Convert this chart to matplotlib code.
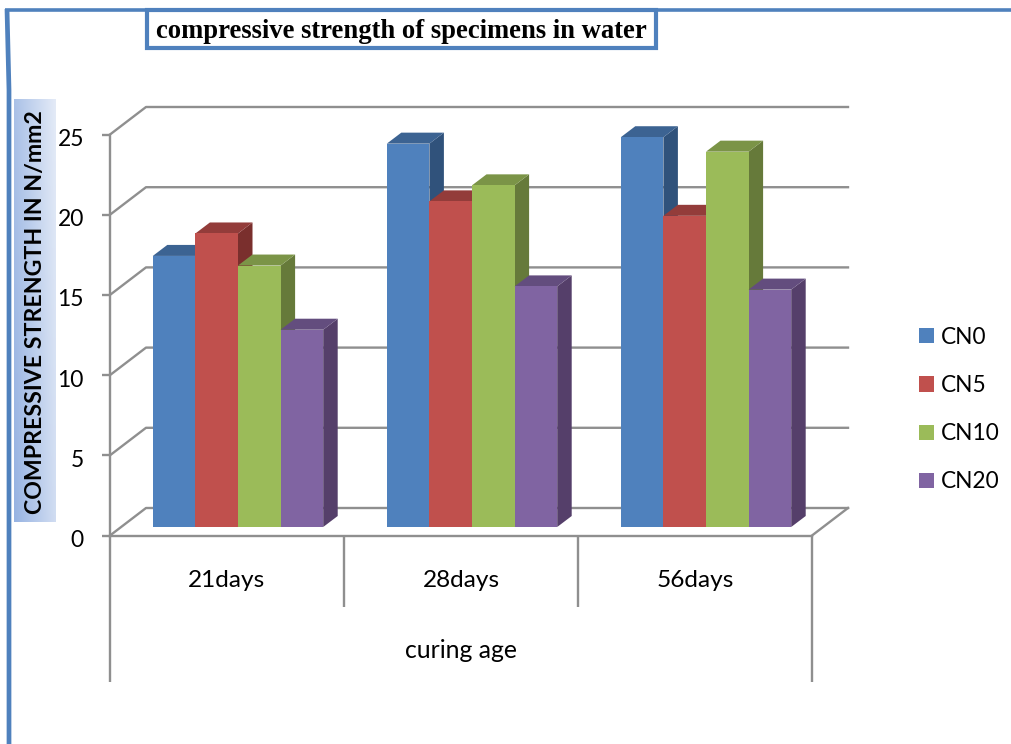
import numpy as np
import matplotlib
matplotlib.use("Agg")
import matplotlib.pyplot as plt
from matplotlib.transforms import ScaledTranslation

categories = ["21days", "28days", "56days"]
series_names = ["CN0", "CN5", "CN10", "CN20"]
cn0 = [16.9, 23.9, 24.3]
cn5 = [18.3, 20.3, 19.4]
cn10 = [16.3, 21.3, 23.4]
cn20 = [12.3, 15.0, 14.8]
yticks = [0, 5, 10, 15, 20, 25]

front = ["#4f81bd", "#c0504d", "#9bbb59", "#8064a2"]
top = ["#3c6392", "#933c3a", "#7b9447", "#634d7e"]
side = ["#30527b", "#7a2f2d", "#667a3a", "#553f6a"]
grey = "#8f8f8f"

W, H = 1012, 744
plt.rcParams["font.family"] = "Lato"
fig = plt.figure(figsize=(W / 100, H / 100), dpi=100)

# overlay in pixel coords for the border, title box and label box
bg = fig.add_axes([0, 0, 1, 1], zorder=0)
bg.set_xlim(0, W)
bg.set_ylim(H, 0)
bg.axis("off")
bg.plot([7, 9, 9], [9, 90, H], color="#4f81bd", lw=3.4, solid_capstyle="butt")
bg.plot([5, W], [9.5, 9.5], color="#4f81bd", lw=2.6, solid_capstyle="butt")

gx, gy = np.meshgrid(np.linspace(0, 1, 60), np.linspace(0, 1, 60))
bg.imshow(0.75 * gx + 0.25 * (1 - gy), extent=(14, 56, 522, 99), aspect="auto", zorder=1,
          cmap=matplotlib.colors.LinearSegmentedColormap.from_list("lab", ["#97b3e2", "#e4ebf7"]))
bg.set_xlim(0, W)
bg.set_ylim(H, 0)
bg.text(36, 312, "COMPRESSIVE STRENGTH IN N/mm2", rotation=90, ha="center", va="center",
        fontsize=16.7, fontweight="bold", color="black", zorder=2)

bg.add_patch(plt.Rectangle((147.5, 10), 509, 37.5, fc="white", ec="#4f81bd", lw=3, zorder=2))
bg.text(401, 31.5, "compressive strength of specimens in water", ha="center", va="center",
        family="Liberation Serif", fontweight="bold", fontsize=19.2, color="black", zorder=3)

# main axes: the front plane of the 3D box
x0, x1, y0, y1 = 110, 812, 535.5, 134.5
ax = fig.add_axes([x0 / W, 1 - y0 / H, (x1 - x0) / W, (y0 - y1) / H], zorder=2)
ax.patch.set_visible(False)
ax.set_xlim(0, 3)
ax.set_ylim(0, 25)
px = 3 / (x1 - x0)
py = 25 / (y0 - y1)

# depth of the floor/walls, of one bar, and where the bars stand on the floor
dep_x, dep_y = 36 * px, 27.5 * py
bar_dx, bar_dy = 14.5 * px, 11 * py
base_x, base_y = 11 * px, 8.5 * py
bar_w = 42.6 * px

for v in yticks:
    ax.plot([0, dep_x, 3 + dep_x], [v, v + dep_y, v + dep_y], color=grey, lw=1.7, clip_on=False, zorder=1)
ax.plot([3, 3 + dep_x], [0, dep_y], color=grey, lw=1.7, clip_on=False, zorder=1)

values = [cn0, cn5, cn10, cn20]
for g in range(len(categories)):
    for s, vals in enumerate(values):
        left = g + 0.5 + (s - 2) * bar_w + base_x
        v = vals[g] + base_y
        z = 3 + g * 10 + s
        ax.bar(left, vals[g], bar_w, bottom=base_y, align="edge", color=front[s], clip_on=False, zorder=z + 0.2,
               label=series_names[s] if g == 0 else None)
        r = left + bar_w
        ax.fill([r, r + bar_dx, r + bar_dx, r], [base_y, base_y + bar_dy, v + bar_dy, v],
                color=side[s], lw=0, clip_on=False, zorder=z)
        ax.fill([left, left + bar_dx, r + bar_dx, r], [v, v + bar_dy, v + bar_dy, v],
                color=top[s], lw=0, clip_on=False, zorder=z)

for sp in ["top", "right"]:
    ax.spines[sp].set_visible(False)
for sp in ["left", "bottom"]:
    ax.spines[sp].set_color(grey)
    ax.spines[sp].set_linewidth(1.7)

ax.set_yticks(yticks)
ax.set_yticklabels([str(v) for v in yticks], fontsize=16.5, color="black")
ax.tick_params(axis="y", length=5.8, width=1.7, color=grey, pad=13)
down = ScaledTranslation(0, -3 / 100, fig.dpi_scale_trans)
for lab in ax.get_yticklabels():
    lab.set_transform(lab.get_transform() + down)
ax.set_xticks([0.5, 1.5, 2.5])
ax.set_xticklabels(categories, fontsize=17.6, color="black")
ax.tick_params(axis="x", length=0, pad=25)

# category separators below the floor
ax.vlines([0, 3], -(682 - y0) * py, 0, color=grey, lw=1.7, clip_on=False)
ax.vlines([1, 2], -(607 - y0) * py, 0, color=grey, lw=1.7, clip_on=False)
ax.text(1.5, -(651 - y0) * py, "curing age", ha="center", va="center", fontsize=17.8, color="black")

ax.legend(loc="upper left", bbox_to_anchor=(912 / W, 1 - 320 / H), bbox_transform=fig.transFigure,
          frameon=False, fontsize=16.3, handlelength=0.66, handleheight=0.66, handletextpad=0.3,
          labelspacing=1.2, borderaxespad=0, borderpad=0.3, labelcolor="black")

fig.savefig("out.png", dpi=100)
